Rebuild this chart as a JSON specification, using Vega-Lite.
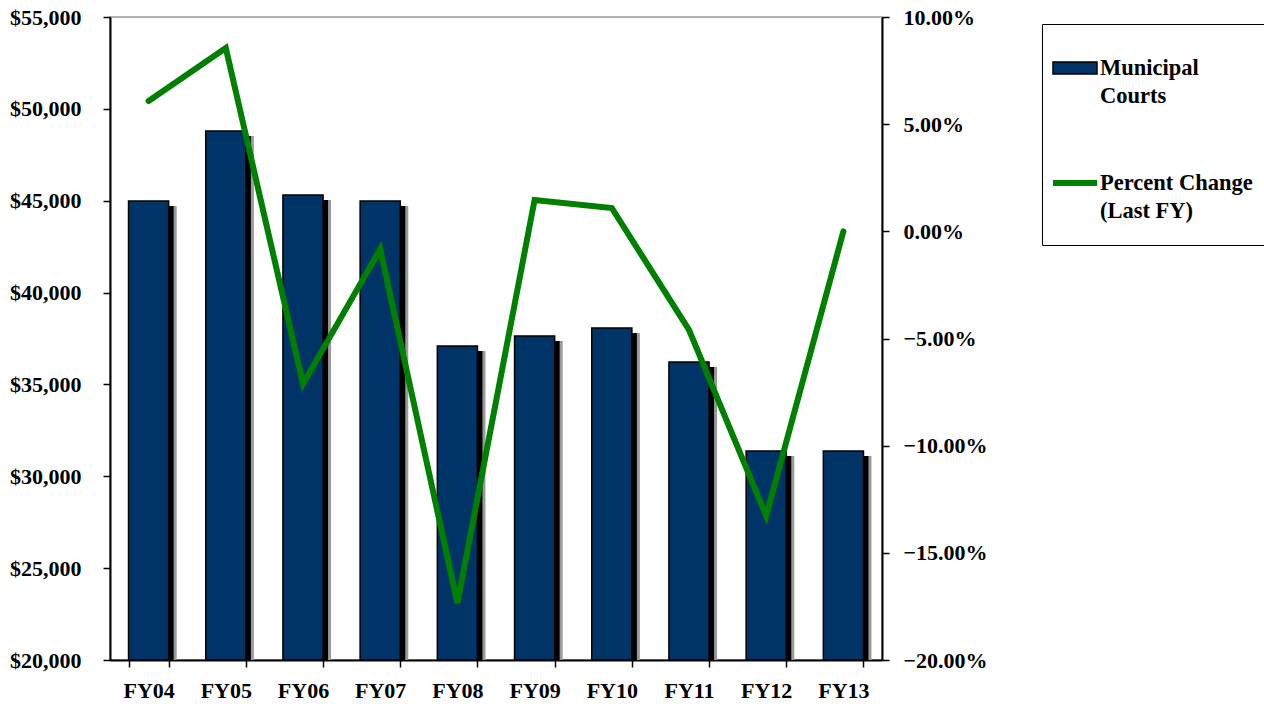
{
  "$schema": "https://vega.github.io/schema/vega-lite/v6.json",
  "autosize": {"type": "none"},
  "padding": {"left": 110, "top": 17, "right": 382, "bottom": 44},
  "width": 772,
  "height": 643,
  "background": "white",
  "view": {"stroke": "#999999", "strokeWidth": 1.5},
  "config": {
    "font": "Liberation Serif",
    "style": {"guide-label": {"lineHeight": 28}},
    "axis": {
      "labelFont": "Liberation Serif",
      "labelFontWeight": "bold",
      "labelFontSize": 22,
      "labelColor": "black",
      "domainColor": "black",
      "domainWidth": 2,
      "tickColor": "black",
      "tickWidth": 1.5,
      "tickSize": 7,
      "grid": false,
      "title": null
    },
    "legend": {
      "title": null,
      "orient": "none",
      "legendX": 932,
      "legendY": 7,
      "strokeColor": "black",
      "fillColor": "white",
      "padding": 22,
      "rowPadding": 51,
      "symbolSize": 1764,
      "symbolOpacity": 1,
      "labelOffset": -12,
      "labelFont": "Liberation Serif",
      "labelFontWeight": "bold",
      "labelFontSize": 22.5,
      "labelColor": "black",
      "labelLimit": 300
    }
  },
  "data": {
    "values": [
      {"fy": "FY04", "courts": 44990, "pct": 0.0608},
      {"fy": "FY05", "courts": 48800, "pct": 0.0855},
      {"fy": "FY06", "courts": 45310, "pct": -0.0712},
      {"fy": "FY07", "courts": 44980, "pct": -0.0083},
      {"fy": "FY08", "courts": 37090, "pct": -0.1734},
      {"fy": "FY09", "courts": 37640, "pct": 0.0146},
      {"fy": "FY10", "courts": 38070, "pct": 0.0109},
      {"fy": "FY11", "courts": 36220, "pct": -0.046},
      {"fy": "FY12", "courts": 31380, "pct": -0.1328},
      {"fy": "FY13", "courts": 31380, "pct": 0.0}
    ]
  },
  "encoding": {
    "x": {
      "field": "fy",
      "type": "nominal",
      "sort": null,
      "scale": {"paddingInner": 0.48, "paddingOuter": 0.24},
      "axis": {"labelAngle": 0, "tickBand": "extent", "labelPadding": 13, "labelBaseline": "top"}
    }
  },
  "layer": [
    {
      "layer": [
        {
          "mark": {"type": "bar", "color": "#9a9a9a", "xOffset": 8, "yOffset": 5, "clip": true},
          "encoding": {
            "y": {"field": "courts", "type": "quantitative", "scale": {"domain": [20000, 55000], "zero": false, "nice": false}},
            "y2": {"datum": 20000}
          }
        },
        {
          "mark": {"type": "bar", "color": "#000000", "xOffset": 5, "yOffset": 5, "clip": true},
          "encoding": {
            "y": {"field": "courts", "type": "quantitative"},
            "y2": {"datum": 20000}
          }
        },
        {
          "mark": {"type": "bar", "fill": "#003366", "stroke": "black", "strokeWidth": 1.5, "clip": true},
          "encoding": {
            "y": {
              "field": "courts",
              "type": "quantitative",
              "axis": {
                "orient": "left",
                "values": [20000, 25000, 30000, 35000, 40000, 45000, 50000, 55000],
                "format": "$,.0f",
                "labelPadding": 22
              }
            },
            "y2": {"datum": 20000}
          }
        },
        {
          "mark": {"type": "point", "opacity": 0},
          "encoding": {
            "y": {"field": "courts", "type": "quantitative"},
            "fill": {
              "datum": "Municipal Courts",
              "type": "nominal",
              "scale": {"domain": ["Municipal Courts", "Percent Change (Last FY)"], "range": ["#003366", "transparent"]},
              "legend": {
                "labelExpr": "datum.value == 'Municipal Courts' ? ['Municipal', 'Courts'] : ['Percent Change', '(Last FY)']"
              }
            },
            "stroke": {
              "datum": "Municipal Courts",
              "type": "nominal",
              "scale": {"domain": ["Municipal Courts", "Percent Change (Last FY)"], "range": ["#000000", "#008000"]},
              "legend": {
                "labelExpr": "datum.value == 'Municipal Courts' ? ['Municipal', 'Courts'] : ['Percent Change', '(Last FY)']"
              }
            },
            "shape": {
              "datum": "Municipal Courts",
              "type": "nominal",
              "scale": {"domain": ["Municipal Courts", "Percent Change (Last FY)"], "range": ["M-1.667,-0.286H0.429V0.286H-1.667Z", "M-1.667,0H0.429"]},
              "legend": {
                "labelExpr": "datum.value == 'Municipal Courts' ? ['Municipal', 'Courts'] : ['Percent Change', '(Last FY)']"
              }
            },
            "strokeWidth": {
              "datum": "Municipal Courts",
              "type": "nominal",
              "scale": {"domain": ["Municipal Courts", "Percent Change (Last FY)"], "range": [1.5, 6], "padding": 0},
              "legend": {
                "labelExpr": "datum.value == 'Municipal Courts' ? ['Municipal', 'Courts'] : ['Percent Change', '(Last FY)']"
              }
            }
          }
        }
      ]
    },
    {
      "mark": {"type": "line", "color": "#008000", "strokeWidth": 6, "strokeCap": "round"},
      "encoding": {
        "y": {
          "field": "pct",
          "type": "quantitative",
          "scale": {"domain": [-0.2, 0.1], "nice": false, "zero": false},
          "axis": {
            "orient": "right",
            "values": [-0.2, -0.15, -0.1, -0.05, 0, 0.05, 0.1],
            "format": ".2%",
            "labelPadding": 14
          }
        }
      }
    }
  ],
  "resolve": {"scale": {"y": "independent"}}
}
